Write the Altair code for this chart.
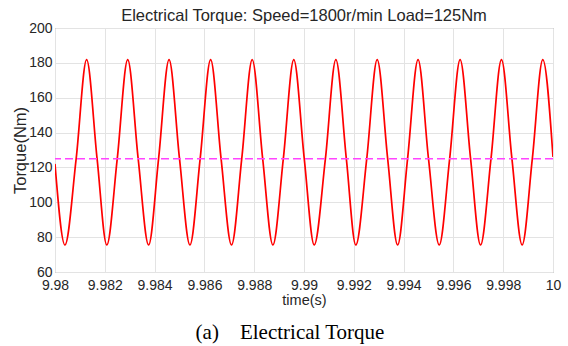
import altair as alt
import pandas as pd

# Electrical torque waveform, steady state at 1800 r/min with a 125 Nm load.
# Extremes and 125 Nm crossings of each ripple cycle (time in s, torque in Nm).
peak_t = [9.98127, 9.98292, 9.98458, 9.98625, 9.98792, 9.98959,
          9.99128, 9.99294, 9.99458, 9.99627, 9.99793, 9.99959]
peak_v = [181.8, 181.8, 181.8, 181.8, 181.8, 181.8,
          181.8, 181.8, 181.8, 181.8, 181.8, 181.8]
trough_t = [9.98040, 9.98208, 9.98376, 9.98542, 9.98709, 9.98875,
            9.99041, 9.99208, 9.99376, 9.99543, 9.99709, 9.99876]
trough_v = [75.5, 75.5, 75.5, 75.5, 75.5, 75.5,
            75.5, 75.5, 75.5, 75.5, 75.5, 75.5]
rise_t = [9.98085, 9.98250, 9.98416, 9.98583, 9.98750, 9.98917,
          9.99086, 9.99252, 9.99416, 9.99585, 9.99751, 9.99917]
fall_t = [9.98169, 9.98334, 9.98500, 9.98667, 9.98834, 9.99001,
          9.99170, 9.99336, 9.99500, 9.99669, 9.99835]
cross_v = 125.0
edge_t = [9.98, 10.0]
edge_v = [122.0, 126.0]

load_torque = [125]

x_ticks = [9.98, 9.982, 9.984, 9.986, 9.988, 9.99,
           9.992, 9.994, 9.996, 9.998, 10.0]
y_ticks = [60, 80, 100, 120, 140, 160, 180, 200]

rows = []
rows += [{"t": t, "T": v} for t, v in zip(peak_t, peak_v)]
rows += [{"t": t, "T": v} for t, v in zip(trough_t, trough_v)]
rows += [{"t": t, "T": cross_v} for t in rise_t + fall_t]
rows += [{"t": t, "T": v} for t, v in zip(edge_t, edge_v)]
wave = pd.DataFrame(rows).sort_values("t").reset_index(drop=True)

load_df = pd.DataFrame({"T": load_torque})
caption_df = pd.DataFrame({"label": ["(a)\u2003Electrical Torque"]})

SANS = "Liberation Sans"
INK = "#262626"

x_scale = alt.Scale(domain=[9.98, 10.0], nice=False, zero=False)
y_scale = alt.Scale(domain=[60, 200], nice=False, zero=False)

x_axis = alt.Axis(
    title="time(s)", values=x_ticks, format=".4~f",
    labelFont=SANS, labelFontSize=14, labelColor=INK, labelPadding=6,
    labelOverlap=False, labelFlush=False,
    titleFont=SANS, titleFontSize=14.5, titleColor=INK, titleFontWeight="normal",
    titlePadding=1, ticks=False, domain=False,
    grid=True, gridColor="#e3e3e3", gridWidth=1,
)
y_axis = alt.Axis(
    title="Torque(Nm)", values=y_ticks, tickCount=8,
    labelFont=SANS, labelFontSize=14, labelColor=INK, labelPadding=3,
    labelOverlap=False, labelFlush=False,
    titleFont=SANS, titleFontSize=16.5, titleColor=INK, titleFontWeight="normal",
    titlePadding=0, ticks=False, domain=False,
    grid=True, gridColor="#e3e3e3", gridWidth=1,
)

torque_line = alt.Chart(wave).mark_line(
    color="#ff0000", strokeWidth=1.7, interpolate="monotone", clip=True
).encode(
    x=alt.X("t:Q", scale=x_scale, axis=x_axis),
    y=alt.Y("T:Q", scale=y_scale, axis=y_axis),
)

load_line = alt.Chart(load_df).mark_rule(
    color="#ff44ff", strokeWidth=1.6, strokeDash=[8, 4]
).encode(y=alt.Y("T:Q", scale=y_scale, axis=y_axis))

caption = alt.Chart(caption_df).mark_text(
    font="Liberation Serif", fontSize=21, color="#000000",
    align="center", baseline="middle",
).encode(x=alt.value(235), y=alt.value(305), text="label:N")

chart = (
    alt.layer(torque_line, load_line, caption)
    .properties(
        width=498, height=244,
        title=alt.TitleParams(
            "Electrical Torque: Speed=1800r/min Load=125Nm",
            font=SANS, fontSize=16.5, fontWeight="normal", color=INK,
            anchor="middle", offset=-3,
        ),
        autosize=alt.AutoSizeParams(type="none"),
        padding={"left": 55, "top": 28, "right": 15, "bottom": 74},
        background="#ffffff",
    )
    .configure_view(stroke="#8c8c8c", strokeWidth=1)
)

chart.save("out.html", embed_options={"renderer": "svg", "actions": False})
